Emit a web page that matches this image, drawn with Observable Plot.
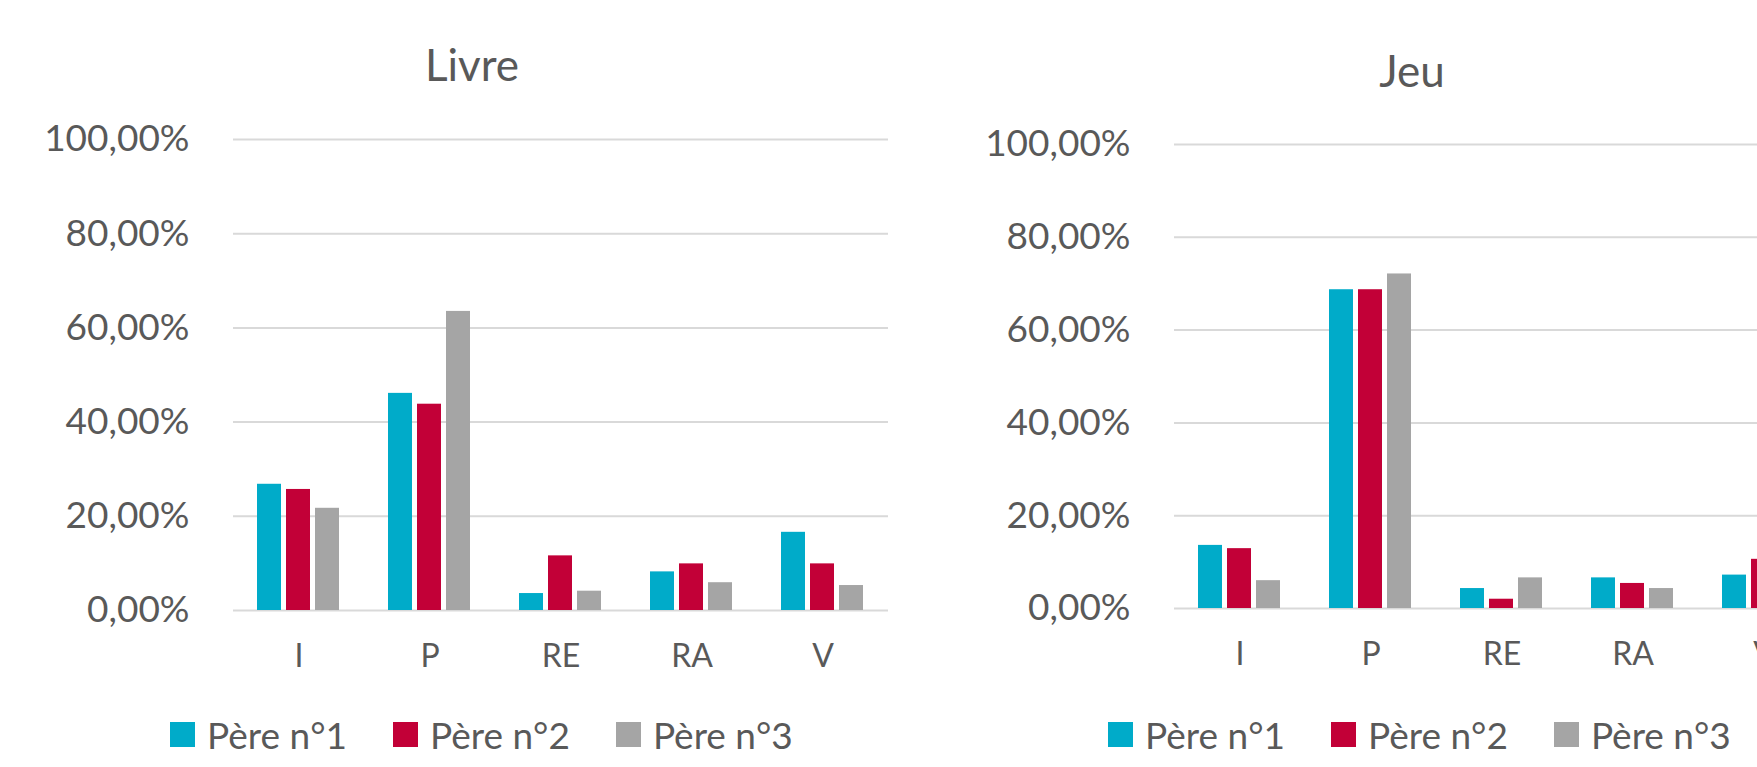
<!DOCTYPE html>
<html>
<head>
<meta charset="utf-8">
<script src="https://cdn.jsdelivr.net/npm/d3@7"></script>
<script src="https://cdn.jsdelivr.net/npm/@observablehq/plot@0.6"></script>
<style>
  html, body { margin: 0; padding: 0; background: #fff; overflow: hidden; }
  #root { position: relative; width: 1757px; height: 767px; overflow: hidden; font-family: Lato, "Open Sans", sans-serif; color: #595959; }
  .panel { position: absolute; top: 0; width: 888px; }
  .panel svg { max-width: none !important; }
  .title { position: absolute; font-size: 44px; line-height: 44px; white-space: nowrap; transform: translateX(-50%); }
  .legend { position: absolute; display: flex; align-items: center; white-space: nowrap; }
  .legend .item { display: flex; align-items: center; margin-right: 46px; font-size: 37px; line-height: 37px; }
  .legend .sw { width: 25px; height: 25px; margin-right: 12px; }
</style>
</head>
<body>
<div id="root"></div>
<script>
const categories = ["I", "P", "RE", "RA", "V"];
const series = ["Père n°1", "Père n°2", "Père n°3"];
const colors = ["#00ABC9", "#C20037", "#A5A5A5"];
const yTicks = [0, 20, 40, 60, 80, 100];

// Livre (%)
const livrePere1 = [26.8, 46.1, 3.6, 8.2, 16.6];
const livrePere2 = [25.7, 43.8, 11.6, 9.9, 9.9];
const livrePere3 = [21.7, 63.5, 4.1, 5.9, 5.3];

// Jeu (%)
const jeuPere1 = [13.6, 68.7, 4.3, 6.6, 7.2];
const jeuPere2 = [12.9, 68.7, 2.0, 5.4, 10.6];
const jeuPere3 = [6.0, 72.1, 6.6, 4.3, 5.0];

const fmt = d => d.toFixed(2).replace(".", ",") + "%";

function makeChart(vals, marginTop, height) {
  const data = [];
  categories.forEach((c, i) => {
    series.forEach((s, k) => data.push({cat: c, s, v: vals[k][i]}));
  });
  const svg = Plot.plot({
    width: 888,
    height,
    marginLeft: 233,
    marginRight: 0,
    marginTop,
    marginBottom: 80,
    style: {fontFamily: "Lato, 'Open Sans', sans-serif", color: "#595959", background: "transparent", overflow: "visible"},
    fx: {domain: categories, padding: 0, label: null},
    x: {domain: series, axis: null, paddingInner: 0.17, paddingOuter: 0.82},
    y: {domain: [0, 100], label: null},
    color: {domain: series, range: colors},
    marks: [
      Plot.gridY(yTicks, {stroke: "#D9D9D9", strokeWidth: 2, strokeOpacity: 1}),
      Plot.barY(data, {fx: "cat", x: "s", y: "v", fill: "s"}),
      Plot.axisY(yTicks, {tickFormat: fmt, tickSize: 0, tickPadding: 44, fontSize: 37, label: null, fill: "#595959"}),
      Plot.axisFx({anchor: "bottom", tickSize: 0, tickPadding: 34, fontSize: 32, label: null, fill: "#595959"})
    ]
  });
  svg.style.maxWidth = "none";
  return svg;
}

const root = document.getElementById("root");

function addPanel(left, vals, marginTop, height) {
  const div = document.createElement("div");
  div.className = "panel";
  div.style.left = left + "px";
  div.appendChild(makeChart(vals, marginTop, height));
  root.appendChild(div);
}

function addTitle(text, cx, top) {
  const t = document.createElement("div");
  t.className = "title";
  t.style.left = cx + "px";
  t.style.top = top + "px";
  t.textContent = text;
  root.appendChild(t);
}

function addLegend(left, top) {
  const lg = document.createElement("div");
  lg.className = "legend";
  lg.style.left = left + "px";
  lg.style.top = top + "px";
  series.forEach((s, k) => {
    const it = document.createElement("div");
    it.className = "item";
    const sw = document.createElement("div");
    sw.className = "sw";
    sw.style.background = colors[k];
    const tx = document.createElement("span");
    tx.textContent = s;
    it.appendChild(sw);
    it.appendChild(tx);
    lg.appendChild(it);
  });
  root.appendChild(lg);
}

addPanel(0, [livrePere1, livrePere2, livrePere3], 139, 690);
addPanel(941, [jeuPere1, jeuPere2, jeuPere3], 144, 688);
addTitle("Livre", 472, 42);
addTitle("Jeu", 1412, 48);
addLegend(170, 716);
addLegend(1108, 716);
</script>
</body>
</html>
